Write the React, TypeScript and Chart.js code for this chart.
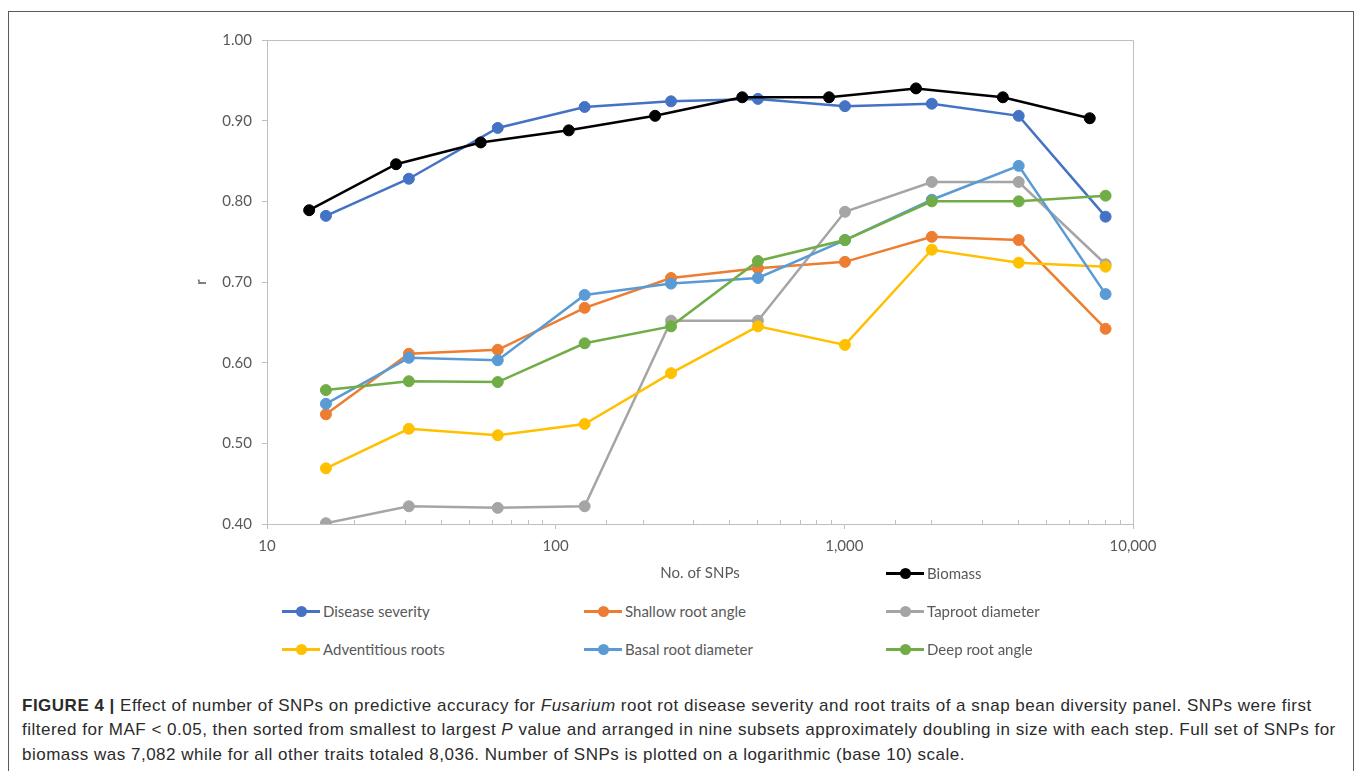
import React, { useEffect, useRef } from "react";
import { Chart, registerables } from "chart.js";

Chart.register(...registerables);

// ---- Data ----
const snpCounts = [16, 31, 63, 126, 251, 502, 1005, 2009, 4018, 8036];
const biomassSnpCounts = [14, 28, 55, 111, 221, 443, 885, 1771, 3541, 7082];

const seriesNames = [
  "Biomass",
  "Disease severity",
  "Shallow root angle",
  "Taproot diameter",
  "Adventitious roots",
  "Basal root diameter",
  "Deep root angle",
];

const biomass = [0.789, 0.846, 0.873, 0.888, 0.906, 0.929, 0.929, 0.94, 0.929, 0.903];
const diseaseSeverity = [0.782, 0.828, 0.891, 0.917, 0.924, 0.927, 0.918, 0.921, 0.906, 0.781];
const shallowRootAngle = [0.536, 0.611, 0.616, 0.668, 0.705, 0.717, 0.725, 0.756, 0.752, 0.642];
const taprootDiameter = [0.401, 0.422, 0.42, 0.422, 0.652, 0.652, 0.787, 0.824, 0.824, 0.722];
const adventitiousRoots = [0.469, 0.518, 0.51, 0.524, 0.587, 0.645, 0.622, 0.74, 0.724, 0.719];
const basalRootDiameter = [0.549, 0.606, 0.603, 0.684, 0.698, 0.705, 0.752, 0.802, 0.844, 0.685];
const deepRootAngle = [0.566, 0.577, 0.576, 0.624, 0.645, 0.726, 0.752, 0.8, 0.8, 0.807];

const yTicks = [0.4, 0.5, 0.6, 0.7, 0.8, 0.9, 1.0];
const xMin = 10;
const xMax = 10000;

const colors = ["#000000", "#4472C4", "#ED7D31", "#A5A5A5", "#FFC000", "#5B9BD5", "#70AD47"];

const AXIS_GREY = "#BFBFBF";
const TEXT_GREY = "#595959";

function isPow10(v: number) {
  const l = Math.log10(v);
  return Math.abs(l - Math.round(l)) < 1e-9;
}

const minorTicksPlugin = {
  id: "minorTicksInside",
  afterDraw(chart: any) {
    const x = chart.scales.x;
    const ctx = chart.ctx;
    const yBase = chart.chartArea.bottom;
    ctx.save();
    ctx.strokeStyle = AXIS_GREY;
    ctx.lineWidth = 1;
    x.ticks.forEach((t: any) => {
      if (isPow10(t.value)) return;
      const px = Math.round(x.getPixelForValue(t.value)) + 0.5;
      ctx.beginPath();
      ctx.moveTo(px, yBase);
      ctx.lineTo(px, yBase - 4);
      ctx.stroke();
    });
    ctx.restore();
  },
};

const plotBoxPlugin = {
  id: "plotBox",
  afterDraw(chart: any) {
    const { left, right, top, bottom } = chart.chartArea;
    const ctx = chart.ctx;
    ctx.save();
    ctx.strokeStyle = AXIS_GREY;
    ctx.lineWidth = 1;
    ctx.beginPath();
    ctx.moveTo(left, top + 0.5);
    ctx.lineTo(right + 0.5, top + 0.5);
    ctx.lineTo(right + 0.5, bottom);
    ctx.stroke();
    ctx.restore();
  },
};

function ChartCanvas() {
  const ref = useRef<HTMLCanvasElement | null>(null);
  useEffect(() => {
    if (!ref.current) return;
    const seriesValues = [
      biomass,
      diseaseSeverity,
      shallowRootAngle,
      taprootDiameter,
      adventitiousRoots,
      basalRootDiameter,
      deepRootAngle,
    ];
    const drawOrder = [0, 6, 5, 4, 3, 2, 1];
    const datasets = seriesNames.map((name, i) => {
      const xs = i === 0 ? biomassSnpCounts : snpCounts;
      return {
        label: name,
        data: seriesValues[i].map((v, j) => ({ x: xs[j], y: v })),
        borderColor: colors[i],
        backgroundColor: colors[i],
        pointBackgroundColor: colors[i],
        pointBorderColor: colors[i],
        borderWidth: 2.5,
        pointRadius: 5.5,
        pointBorderWidth: 1,
        tension: 0,
        fill: false,
        order: drawOrder[i],
      };
    });
    Chart.defaults.font.family = "Lato";
    const chart = new Chart(ref.current, {
      type: "line",
      data: { datasets },
      plugins: [minorTicksPlugin, plotBoxPlugin],
      options: {
        animation: false,
        responsive: false,
        maintainAspectRatio: false,
        layout: { padding: { top: 20, right: 67, left: 0, bottom: 0 } },
        plugins: {
          legend: { display: false },
          tooltip: { enabled: false },
        },
        scales: {
          x: {
            type: "logarithmic",
            min: xMin,
            max: xMax,
            afterFit: (s: any) => {
              s.height = 66;
            },
            grid: {
              drawOnChartArea: false,
              drawTicks: true,
              tickLength: 5,
              tickColor: (c: any) => (c.tick && isPow10(c.tick.value) ? AXIS_GREY : "rgba(0,0,0,0)"),
            },
            border: { display: true, color: AXIS_GREY, width: 1 },
            ticks: {
              autoSkip: false,
              maxRotation: 0,
              padding: 8,
              color: TEXT_GREY,
              font: { size: 15 },
              callback: (v: any) => (isPow10(Number(v)) ? Number(v).toLocaleString("en-US") : ""),
            },
            title: {
              display: true,
              text: "No. of SNPs",
              color: TEXT_GREY,
              font: { size: 15 },
              padding: { top: 0, bottom: 8 },
            },
          },
          y: {
            type: "linear",
            min: yTicks[0],
            max: yTicks[yTicks.length - 1],
            afterFit: (s: any) => {
              s.width = 117;
            },
            afterBuildTicks: (s: any) => {
              s.ticks = yTicks.map((v) => ({ value: v }));
            },
            grid: {
              drawOnChartArea: false,
              drawTicks: true,
              tickLength: 5,
              tickColor: AXIS_GREY,
            },
            border: { display: true, color: AXIS_GREY, width: 1 },
            ticks: {
              padding: 10,
              color: TEXT_GREY,
              font: { size: 15 },
              callback: (v: any) => Number(v).toFixed(2),
            },
            title: {
              display: true,
              text: "r",
              color: TEXT_GREY,
              font: { size: 15 },
              padding: { top: 42, bottom: 0 },
            },
          },
        },
      },
    });
    return () => chart.destroy();
  }, []);
  return (
    <canvas
      ref={ref}
      width={1050}
      height={570}
      style={{ position: "absolute", left: 150, top: 20, width: 1050, height: 570 }}
    />
  );
}

const legendSlots = [
  { name: seriesNames[0], color: colors[0], left: 886, top: 573 },
  { name: seriesNames[1], color: colors[1], left: 282, top: 611 },
  { name: seriesNames[2], color: colors[2], left: 584, top: 611 },
  { name: seriesNames[3], color: colors[3], left: 886, top: 611 },
  { name: seriesNames[4], color: colors[4], left: 282, top: 649 },
  { name: seriesNames[5], color: colors[5], left: 584, top: 649 },
  { name: seriesNames[6], color: colors[6], left: 886, top: 649 },
];

function Legend() {
  return (
    <>
      {legendSlots.map((s) => (
        <div
          key={s.name}
          style={{ position: "absolute", left: s.left, top: s.top - 10, height: 20, display: "flex", alignItems: "center" }}
        >
          <div style={{ position: "relative", width: 38, height: 20 }}>
            <div style={{ position: "absolute", left: 0, top: 9, width: 38, height: 2.5, background: s.color }} />
            <div
              style={{
                position: "absolute",
                left: 13.5,
                top: 4.5,
                width: 11,
                height: 11,
                borderRadius: "50%",
                background: s.color,
              }}
            />
          </div>
          <span
            style={{
              marginLeft: 3,
              fontFamily: "Lato",
              fontSize: 15,
              color: TEXT_GREY,
              whiteSpace: "nowrap",
              lineHeight: "20px",
            }}
          >
            {s.name}
          </span>
        </div>
      ))}
    </>
  );
}

function Caption() {
  const lineStyle: React.CSSProperties = {
    position: "absolute",
    left: 22,
    whiteSpace: "nowrap",
    fontFamily: "'Liberation Sans', Arial, sans-serif",
    fontSize: 17,
    letterSpacing: "0.5px",
    color: "#2b2b2b",
    lineHeight: "20px",
  };
  return (
    <>
      <div style={{ ...lineStyle, top: 696 }}>
        <b>FIGURE 4 |</b> Effect of number of SNPs on predictive accuracy for <i>Fusarium</i> root rot disease
        severity and root traits of a snap bean diversity panel. SNPs were first
      </div>
      <div style={{ ...lineStyle, top: 720 }}>
        filtered for MAF &lt; 0.05, then sorted from smallest to largest <i>P</i> value and arranged in nine subsets
        approximately doubling in size with each step. Full set of SNPs for
      </div>
      <div style={{ ...lineStyle, top: 745 }}>
        biomass was 7,082 while for all other traits totaled 8,036. Number of SNPs is plotted on a logarithmic (base
        10) scale.
      </div>
    </>
  );
}

export default function App() {
  return (
    <div
      style={{
        position: "absolute",
        left: 0,
        top: 0,
        width: 1357,
        height: 771,
        overflow: "hidden",
        background: "#ffffff",
      }}
    >
      <div
        style={{
          position: "absolute",
          left: 8,
          top: 11,
          width: 1346,
          height: 800,
          border: "1.5px solid #5a5a5a",
          boxSizing: "border-box",
        }}
      />
      <ChartCanvas />
      <Legend />
      <Caption />
    </div>
  );
}
